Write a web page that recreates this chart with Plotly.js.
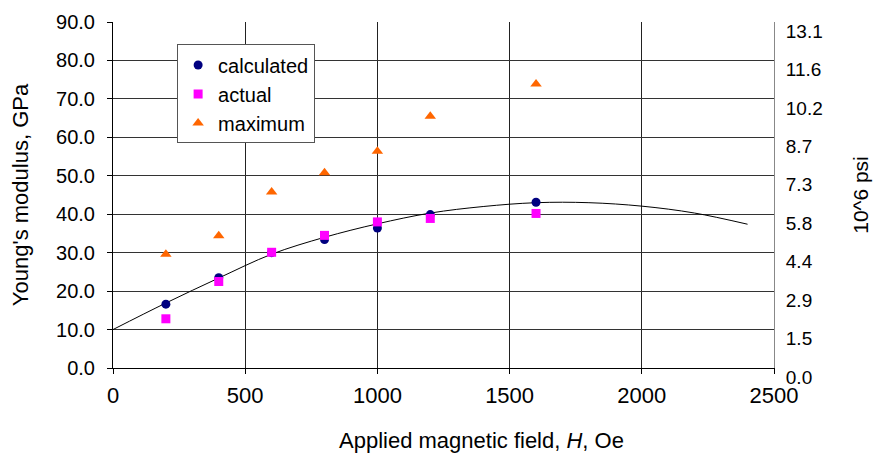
<!DOCTYPE html>
<html>
<head>
<meta charset="utf-8">
<script src="https://cdn.plot.ly/plotly-3.0.1.min.js"></script>
<style>html,body{margin:0;padding:0;background:#fff;}#chart{width:875px;height:456px;}</style>
</head>
<body>
<div id="chart"></div>
<script>
// Data
const fieldH = [200, 400, 600, 800, 1000, 1200, 1600];
const calculated = [16.6, 23.5, 30.0, 33.4, 36.4, 39.9, 43.1];
const actual = [12.8, 22.5, 30.1, 34.5, 38.0, 38.9, 40.2];
const maximum = [29.6, 34.4, 45.8, 50.8, 56.4, 65.5, 73.9];

const fitH = [0, 200, 400, 600, 800, 1000, 1200, 1400, 1600, 1800, 2000, 2200, 2400];
const fitY = [10.0, 16.9, 23.4, 29.6, 34.0, 37.5, 40.3, 42.0, 43.0, 43.0, 42.1, 40.3, 37.4];

const xTicks = [0, 500, 1000, 1500, 2000, 2500];
const leftTicks = [0, 10, 20, 30, 40, 50, 60, 70, 80, 90];
const psiLabels = ["0.0", "1.5", "2.9", "4.4", "5.8", "7.3", "8.7", "10.2", "11.6", "13.1"];

const FONT = "Liberation Sans, Arial, sans-serif";

const traces = [
  {x: fitH, y: fitY, mode: "lines", line: {color: "#000", width: 1, shape: "spline"},
   showlegend: false, hoverinfo: "skip"},
  {x: fieldH, y: calculated, mode: "markers", name: "calculated",
   marker: {color: "#000080", size: 9, symbol: "circle"}},
  {x: fieldH, y: actual, mode: "markers", name: "actual",
   marker: {color: "#ff00ff", size: 9, symbol: "square"}},
  {x: fieldH, y: maximum, mode: "markers", name: "maximum",
   marker: {color: "#ff6600", size: 10, symbol: "triangle-up"}},
  {x: [null], y: [null], yaxis: "y2", showlegend: false, hoverinfo: "skip"}
];

const layout = {
  width: 875, height: 456,
  margin: {l: 113, r: 101, t: 22, b: 88},
  paper_bgcolor: "#fff", plot_bgcolor: "#fff",
  font: {family: FONT, color: "#000", size: 19},
  showlegend: true,
  legend: {x: 0.097, y: 0.935, xanchor: "left", yanchor: "top",
    bgcolor: "#fff", bordercolor: "#555", borderwidth: 1,
    entrywidth: 108,
    font: {family: FONT, size: 20, color: "#000"}},
  xaxis: {range: [0, 2500], tickvals: xTicks,
    ticks: "outside", ticklen: 5, tickcolor: "#000",
    showline: true, linecolor: "#000", linewidth: 1, mirror: false,
    showgrid: true, gridcolor: "#222", gridwidth: 1, zeroline: false,
    ticklabelstandoff: 3,
    tickfont: {family: FONT, size: 22}, fixedrange: true},
  yaxis: {range: [0, 90], tickvals: leftTicks, tickformat: ".1f",
    ticks: "outside", ticklen: 5, tickcolor: "#000",
    showline: true, linecolor: "#000", linewidth: 1,
    showgrid: true, gridcolor: "#333", gridwidth: 1, zeroline: false,
    ticklabelstandoff: 8,
    tickfont: {family: FONT, size: 20},
    title: {text: "Young's modulus, GPa", font: {family: FONT, size: 22}, standoff: 21}},
  yaxis2: {range: [0, 90], overlaying: "y", side: "right",
    tickvals: leftTicks, ticktext: psiLabels,
    showline: true, linecolor: "#888", linewidth: 1, showgrid: false, zeroline: false,
    ticks: "", ticklabelshift: 9, ticklabelstandoff: 7,
    tickfont: {family: FONT, size: 19},
    title: {text: "10^6 psi", font: {family: FONT, size: 21}, standoff: 31}},
  annotations: [
    {text: "Applied magnetic field, <i>H</i>, Oe", xref: "paper", yref: "paper",
     x: 0.558, y: -0.21, xanchor: "center", yanchor: "middle", showarrow: false,
     font: {family: FONT, size: 22}}
  ]
};

Plotly.newPlot("chart", traces, layout, {displayModeBar: false, staticPlot: true});
</script>
</body>
</html>
